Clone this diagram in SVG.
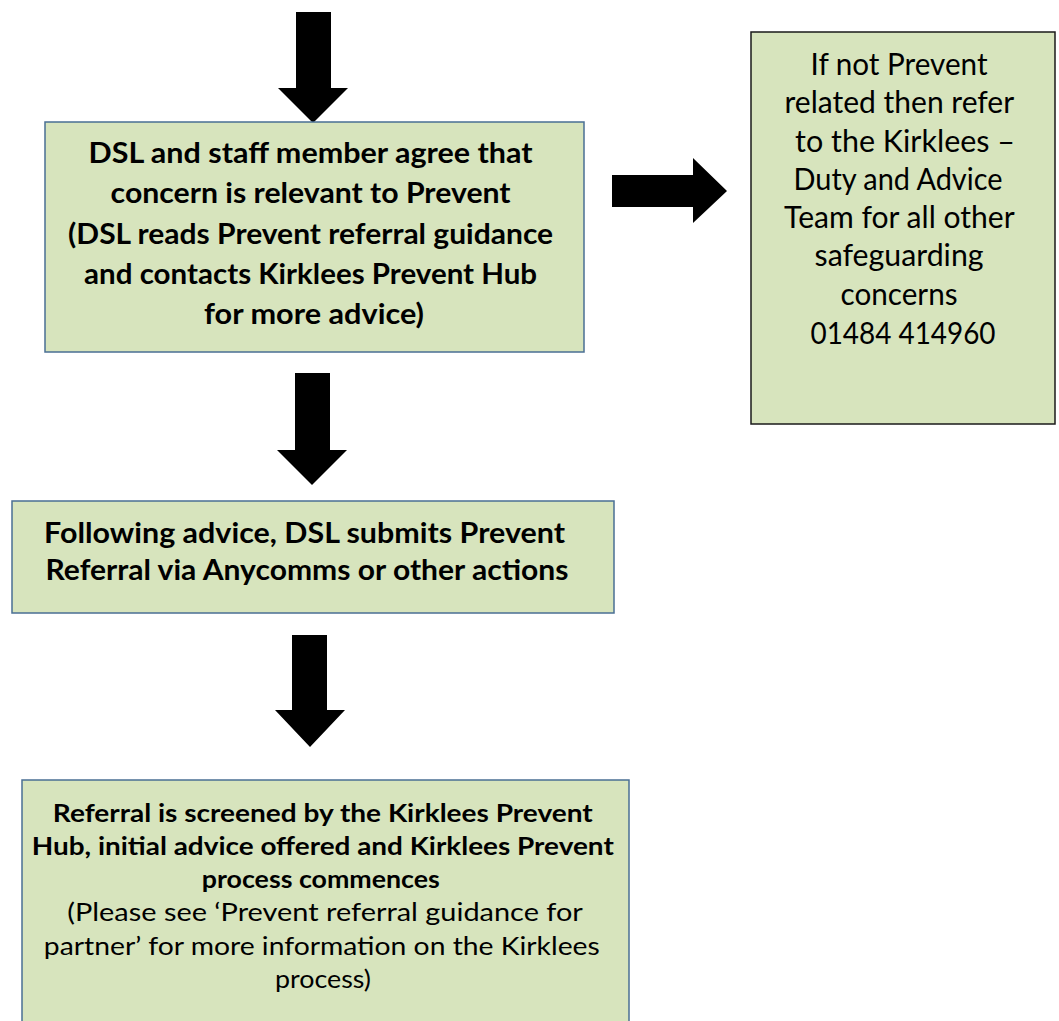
<svg xmlns="http://www.w3.org/2000/svg" width="1059" height="1021" viewBox="0 0 1059 1021">
<style>
.box{fill:#d7e4bd;stroke:#4a6f94;stroke-width:1.5}
.box2{fill:#d7e4bd;stroke:#1a1a1a;stroke-width:1.5}
.arrow{fill:#000}
text{font-family:Lato,"Liberation Sans",sans-serif;fill:#000;text-anchor:middle}
.b{font-weight:bold}
</style>
<rect width="1059" height="1021" fill="#fff"/>
<g id="connectors">
<polygon class="arrow" points="296,12 331,12 331,88 348,88 313,123 278,88 296,88"/>
<polygon class="arrow" points="612,175 693,175 693,158 727,191 693,223 693,207 612,207"/>
<polygon class="arrow" points="295,373 330,373 330,450 347,450 312,485 277,450 295,450"/>
<polygon class="arrow" points="292,635 327,635 327,710 345,710 310,747 275,710 292,710"/>
</g>
<g id="node-agree">
<rect class="box" x="45" y="122" width="539" height="230"/>
<text class="b" font-size="28">
<tspan x="314" y="163" textLength="444" lengthAdjust="spacingAndGlyphs">DSL and staff member agree that</tspan>
<tspan x="314" y="203" textLength="400" lengthAdjust="spacingAndGlyphs">concern is relevant to Prevent</tspan>
<tspan x="314" y="244" textLength="485" lengthAdjust="spacingAndGlyphs">(DSL reads Prevent referral guidance</tspan>
<tspan x="314" y="284" textLength="453" lengthAdjust="spacingAndGlyphs">and contacts Kirklees Prevent Hub</tspan>
<tspan x="314" y="324" textLength="220" lengthAdjust="spacingAndGlyphs">for more advice)</tspan>
</text>
</g>
<g id="node-duty">
<rect class="box2" x="751" y="32" width="304" height="392"/>
<text font-size="31">
<tspan x="903" y="75" textLength="177" lengthAdjust="spacingAndGlyphs">If not Prevent</tspan>
<tspan x="903" y="113" textLength="229" lengthAdjust="spacingAndGlyphs">related then refer</tspan>
<tspan x="909" y="152" textLength="220" lengthAdjust="spacingAndGlyphs">to the Kirklees –</tspan>
<tspan x="902" y="190" textLength="209" lengthAdjust="spacingAndGlyphs">Duty and Advice</tspan>
<tspan x="903" y="228" textLength="230" lengthAdjust="spacingAndGlyphs">Team for all other</tspan>
<tspan x="903" y="266" textLength="169" lengthAdjust="spacingAndGlyphs">safeguarding</tspan>
<tspan x="903" y="305" textLength="117" lengthAdjust="spacingAndGlyphs">concerns</tspan>
<tspan x="903" y="344" textLength="185" lengthAdjust="spacingAndGlyphs">01484 414960</tspan>
</text>
</g>
<g id="node-submit">
<rect class="box" x="12" y="501" width="602" height="112"/>
<text class="b" font-size="28">
<tspan x="308" y="543" textLength="521" lengthAdjust="spacingAndGlyphs">Following advice, DSL submits Prevent</tspan>
<tspan x="307" y="580" textLength="523" lengthAdjust="spacingAndGlyphs">Referral via Anycomms or other actions</tspan>
</text>
</g>
<g id="node-screened">
<rect class="box" x="22" y="780" width="607" height="260"/>
<text font-size="25">
<tspan class="b" x="326" y="822" textLength="540" lengthAdjust="spacingAndGlyphs">Referral is screened by the Kirklees Prevent</tspan>
<tspan class="b" x="326" y="855" textLength="582" lengthAdjust="spacingAndGlyphs">Hub, initial advice offered and Kirklees Prevent</tspan>
<tspan class="b" x="324" y="888" textLength="238" lengthAdjust="spacingAndGlyphs">process commences</tspan>
<tspan x="328" y="921" textLength="515" lengthAdjust="spacingAndGlyphs">(Please see ‘Prevent referral guidance for</tspan>
<tspan x="325" y="955" textLength="556" lengthAdjust="spacingAndGlyphs">partner’ for more information on the Kirklees</tspan>
<tspan x="323" y="988" textLength="96" lengthAdjust="spacingAndGlyphs">process)</tspan>
</text>
</g>
</svg>
